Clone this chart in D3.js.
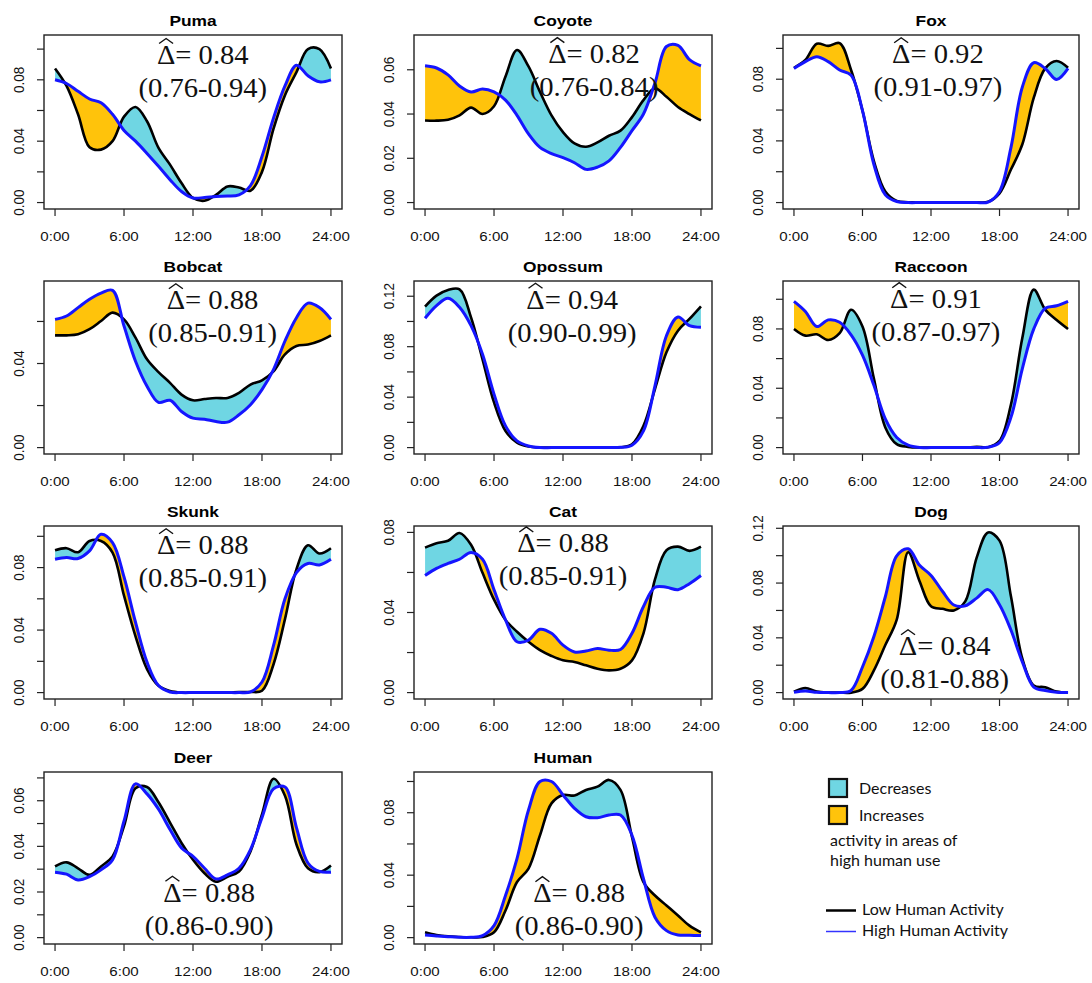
<!DOCTYPE html>
<html><head><meta charset="utf-8">
<script src="https://cdn.jsdelivr.net/npm/d3@7"></script>
<style>body{margin:0;background:#fff} svg{display:block}</style>
</head><body><svg id="chart" width="1092" height="983"></svg>
<script>
// ---------------- data ----------------
const hours = [0,1,2,3,4,5,6,7,8,9,10,11,12,13,14,15,16,17,18,19,20,21,22,23,24];
const species = ["Puma","Coyote","Fox","Bobcat","Opossum","Raccoon","Skunk","Cat","Dog","Deer","Human"];
const deltaHat = ["0.84","0.82","0.92","0.88","0.94","0.91","0.88","0.88","0.84","0.88","0.88"];
const deltaCI = ["(0.76-0.94)","(0.76-0.84)","(0.91-0.97)","(0.85-0.91)","(0.90-0.99)","(0.87-0.97)","(0.85-0.91)","(0.85-0.91)","(0.81-0.88)","(0.86-0.90)","(0.86-0.90)"];

const pumaLow   = [0.0874,0.076,0.0575,0.036,0.0345,0.040,0.056,0.0623,0.053,0.0356,0.0247,0.0127,0.003,0.0012,0.005,0.0105,0.0098,0.0077,0.020,0.048,0.070,0.085,0.100,0.100,0.0874];
const pumaHigh  = [0.080,0.0776,0.0725,0.0675,0.065,0.0575,0.047,0.040,0.032,0.0236,0.0149,0.0072,0.003,0.0033,0.004,0.0042,0.005,0.011,0.030,0.055,0.076,0.0895,0.0826,0.0787,0.080];
const coyoteLow = [0.0371,0.037,0.0374,0.0394,0.0429,0.040,0.0435,0.057,0.0689,0.0615,0.050,0.0394,0.0318,0.0267,0.0252,0.0272,0.0302,0.0325,0.0386,0.0463,0.0516,0.0478,0.0432,0.040,0.0371];
const coyoteHigh= [0.0618,0.0608,0.0577,0.0527,0.050,0.0513,0.050,0.0463,0.0394,0.031,0.0249,0.0221,0.0203,0.018,0.015,0.016,0.0188,0.0249,0.0325,0.040,0.054,0.0705,0.071,0.0646,0.0618];
const foxLow    = [0.0874,0.0925,0.103,0.1016,0.1034,0.086,0.0597,0.0269,0.0072,0.0011,0.0002,0.0001,0.0001,0.0001,0.0001,0.0001,0.0001,0.0005,0.006,0.0214,0.0378,0.068,0.087,0.0918,0.0874];
const foxHigh   = [0.087,0.0914,0.0946,0.0914,0.086,0.0826,0.0597,0.0247,0.005,0.0007,0,0,0,0,0,0,0,0.0003,0.0072,0.0356,0.075,0.0907,0.087,0.0798,0.087];
const bobcatLow = [0.0534,0.0534,0.0539,0.0563,0.0602,0.0642,0.061,0.0523,0.042,0.0359,0.0308,0.0252,0.0225,0.0231,0.0236,0.0236,0.026,0.030,0.032,0.0363,0.0443,0.0483,0.049,0.0507,0.0534];
const bobcatHigh= [0.061,0.0626,0.0666,0.0706,0.0735,0.0748,0.0578,0.0411,0.0292,0.0215,0.0225,0.0172,0.014,0.0135,0.0124,0.0121,0.0156,0.0204,0.0276,0.0371,0.0507,0.0618,0.0687,0.0666,0.061];
const opossumLow= [0.1118,0.1205,0.125,0.1255,0.1033,0.070,0.0358,0.0132,0.004,0.0008,0,0,0,0,0,0,0,0.0003,0.0026,0.0172,0.0464,0.0755,0.0927,0.102,0.112];
const opossumHigh=[0.1025,0.1126,0.1184,0.1113,0.0967,0.074,0.0424,0.0172,0.0053,0.0013,0,0,0,0,0,0,0,0.0002,0.0019,0.0132,0.049,0.0887,0.1035,0.0967,0.0954];
const raccoonLow= [0.080,0.0755,0.0764,0.0725,0.0771,0.0929,0.0816,0.0465,0.0136,0.0023,0.0005,0,0,0,0,0,0.0005,0.0003,0.0045,0.029,0.074,0.1065,0.093,0.0861,0.080];
const raccoonHigh=[0.0986,0.0918,0.0816,0.0861,0.0845,0.076,0.0623,0.042,0.0193,0.0068,0.0016,0,0,0,0,0,0,0.0003,0.0034,0.0204,0.0533,0.080,0.094,0.0956,0.0986];
const skunkLow  = [0.0911,0.0924,0.0898,0.097,0.097,0.0896,0.062,0.036,0.015,0.0043,0.001,0,0,0,0,0,0.0003,0.0004,0.0012,0.018,0.047,0.079,0.0943,0.089,0.0924];
const skunkHigh = [0.0853,0.0864,0.0858,0.0907,0.1013,0.096,0.074,0.045,0.0195,0.0045,0.0004,0,0,0,0,0,0,0.0004,0.0068,0.030,0.060,0.0768,0.0826,0.0817,0.0853];
const catLow    = [0.0724,0.0746,0.0758,0.0797,0.0738,0.0598,0.0464,0.0363,0.0304,0.0254,0.0212,0.0183,0.0161,0.0153,0.0136,0.0119,0.0111,0.0119,0.0161,0.0296,0.0565,0.0711,0.0729,0.0708,0.0729];
const catHigh   = [0.0585,0.062,0.0645,0.0666,0.070,0.0666,0.0514,0.0363,0.0254,0.0262,0.0316,0.0296,0.0237,0.0203,0.0208,0.022,0.0212,0.0215,0.0296,0.043,0.0526,0.0526,0.0514,0.0544,0.0585];
const dogLow    = [0.0007,0.0034,0.0007,0,0,0,0.0027,0.0162,0.0347,0.0533,0.1025,0.0814,0.063,0.0612,0.060,0.0666,0.0986,0.117,0.111,0.0703,0.0248,0.0052,0.0039,0.0007,0];
const dogHigh   = [0.0002,0.0012,0.0002,0,0,0.0015,0.0187,0.041,0.070,0.0999,0.105,0.093,0.0856,0.074,0.064,0.0634,0.069,0.0752,0.0642,0.0457,0.0224,0.004,0.0015,0.0002,0];
const deerLow   = [0.0312,0.033,0.0304,0.0275,0.0312,0.0356,0.0489,0.0655,0.066,0.0593,0.0504,0.0415,0.0341,0.0282,0.0245,0.0267,0.029,0.0378,0.054,0.0696,0.0622,0.0408,0.0304,0.0287,0.0316];
const deerHigh  = [0.0287,0.0278,0.0253,0.0267,0.0297,0.0341,0.0511,0.0674,0.063,0.0563,0.0474,0.0393,0.0356,0.0304,0.0257,0.0275,0.0304,0.0386,0.0526,0.0652,0.066,0.0482,0.0327,0.029,0.0287];
const humanLow  = [0.0034,0.0017,0.0008,0.0004,0.0002,0.0004,0.0034,0.0174,0.0356,0.0442,0.0656,0.086,0.0914,0.091,0.0946,0.0967,0.101,0.0946,0.0645,0.0356,0.027,0.0206,0.0142,0.0077,0.0034];
const humanHigh = [0.0017,0.0011,0.0006,0.0002,0.0002,0.0013,0.0077,0.027,0.0506,0.0817,0.10,0.10,0.0914,0.0828,0.0774,0.0768,0.0785,0.0785,0.0656,0.0377,0.0131,0.0045,0.0017,0.0015,0.0013];

const lowSeries  = [pumaLow,coyoteLow,foxLow,bobcatLow,opossumLow,raccoonLow,skunkLow,catLow,dogLow,deerLow,humanLow];
const highSeries = [pumaHigh,coyoteHigh,foxHigh,bobcatHigh,opossumHigh,raccoonHigh,skunkHigh,catHigh,dogHigh,deerHigh,humanHigh];

// axis settings per panel
const yMax       = [0.105,0.0728,0.1045,0.0762,0.127,0.108,0.1025,0.080,0.117,0.0698,0.102];
const yTickStep  = [0.02,0.02,0.02,0.02,0.02,0.02,0.02,0.02,0.02,0.01,0.02];
const yLabelEvery= [2,1,2,2,2,2,2,2,2,2,2];
const xTickHours = [0,6,12,18,24];
const xTickLabels= ["0:00","6:00","12:00","18:00","24:00"];

// fill colouring that departs from the sign of the difference in the original figure
const fillOverrides = [
  {panel:"Fox", from:0, to:5.7, type:"inc"},
  {panel:"Raccoon", from:7, to:10.5, type:"dec"},
  {panel:"Human", from:18, to:24, type:"inc"}
];

// annotation anchor (hour, value of first baseline) per panel
const annotHour  = [12.85,14.7,12.6,13.7,12.8,12.43,12.85,12.0,13.2,13.4,13.4];
const annotValue = [0.0903,0.063,0.0903,0.0658,0.110,0.094,0.0885,0.070,0.0273,0.0157,0.0227];

// ---------------- layout ----------------
const colLeft=[44,414,783], colRight=[342,712,1079];
const rowTop=[35,281,526,772], rowBottom=[209,454,699,944];
const CYAN="#6fd6e3", ORANGE="#ffc30b", BLUE="#1515ff";
const curve = d3.curveCatmullRom.alpha(0.5);
const svg = d3.select("#chart");

species.forEach((name,i)=>{
  const c=i%3, r=Math.floor(i/3);
  const L=colLeft[c], R=colRight[c], T=rowTop[r], B=rowBottom[r];
  const m=yMax[i];
  const x=d3.scaleLinear().domain([-0.96,24.96]).range([L,R]);
  const y=d3.scaleLinear().domain([-0.04*m,1.04*m]).range([B,T]);
  const pts=hours.map((h,k)=>({h, lo:lowSeries[i][k], hi:highSeries[i][k]}));
  const g=svg.append("g");
  const defs=g.append("defs");
  defs.append("clipPath").attr("id","ab"+i).append("path")
    .attr("d", d3.area().x(d=>x(d.h)).y0(T-30).y1(d=>y(d.hi)).curve(curve)(pts));
  defs.append("clipPath").attr("id","bl"+i).append("path")
    .attr("d", d3.area().x(d=>x(d.h)).y0(B+30).y1(d=>y(d.hi)).curve(curve)(pts));
  const between=d3.area().x(d=>x(d.h)).y0(d=>y(d.lo)).y1(d=>y(d.hi)).curve(curve);
  g.append("path").attr("d",between(pts)).attr("fill",CYAN).attr("clip-path",`url(#ab${i})`);
  g.append("path").attr("d",between(pts)).attr("fill",ORANGE).attr("clip-path",`url(#bl${i})`);
  fillOverrides.filter(o=>o.panel===name).forEach((o,k)=>{
    const id=`ov${i}_${k}`;
    defs.append("clipPath").attr("id",id).append("rect")
      .attr("x",x(o.from)).attr("width",x(o.to)-x(o.from)).attr("y",T-30).attr("height",B-T+60);
    g.append("path").attr("d",between(pts)).attr("fill",o.type==="inc"?ORANGE:CYAN).attr("clip-path",`url(#${id})`);
  });
  const line=(key)=>d3.line().x(d=>x(d.h)).y(d=>y(d[key])).curve(curve);
  g.append("path").attr("d",line("lo")(pts)).attr("fill","none").attr("stroke","#000").attr("stroke-width",2.6);
  g.append("path").attr("d",line("hi")(pts)).attr("fill","none").attr("stroke",BLUE).attr("stroke-width",3);

  // box
  g.append("rect").attr("x",L).attr("y",T).attr("width",R-L).attr("height",B-T)
    .attr("fill","none").attr("stroke","#222").attr("stroke-width",1.4);

  // x axis
  const xa=g.append("g");
  xTickHours.forEach((h,k)=>{
    xa.append("line").attr("x1",x(h)).attr("x2",x(h)).attr("y1",B).attr("y2",B+7).attr("stroke","#222").attr("stroke-width",1.2);
    xa.append("text").attr("transform",`translate(${x(h)},${B+32}) scale(1.12,1)`)
      .attr("text-anchor","middle").attr("font-family","Liberation Sans, Arial, sans-serif")
      .attr("font-size",13.5).attr("fill","#111").text(xTickLabels[k]);
  });
  // y axis
  const nT=Math.floor(1.04*m/yTickStep[i]+1e-9);
  const yTicks=d3.range(0,nT+1).map(k=>+(k*yTickStep[i]).toFixed(3));
  const ya=g.append("g");
  yTicks.forEach((v,k)=>{
    ya.append("line").attr("x1",L-7).attr("x2",L).attr("y1",y(v)).attr("y2",y(v)).attr("stroke","#222").attr("stroke-width",1.2);
    if(k%yLabelEvery[i]===0){
      ya.append("text").attr("transform",`translate(${L-20},${y(v)}) scale(1.12,1) rotate(-90)`)
        .attr("text-anchor","middle").attr("font-family","Liberation Sans, Arial, sans-serif")
        .attr("font-size",13.5).attr("fill","#111").text(d3.format(".2f")(v));
    }
  });
  // title
  g.append("text").attr("transform",`translate(${(L+R)/2},${T-9}) scale(1.12,1)`)
    .attr("text-anchor","middle").attr("font-family","Liberation Sans, Arial, sans-serif")
    .attr("font-weight","bold").attr("font-size",15.5).attr("fill","#000").text(name);
  // annotation
  const ax=x(annotHour[i]), ay=y(annotValue[i]);
  const ag=g.append("g").attr("transform",`translate(${ax},${ay}) scale(1.06,1)`);
  const t1=ag.append("text").attr("font-family","Liberation Serif, Times New Roman, serif")
    .attr("font-size",27).attr("fill","#111").attr("text-anchor","middle")
    .attr("x",0).attr("y",0).text("\u0394= "+deltaHat[i]);
  ag.append("text").attr("font-family","Liberation Serif, Times New Roman, serif")
    .attr("font-size",27).attr("fill","#111").attr("text-anchor","middle")
    .attr("x",0).attr("y",33).text(deltaCI[i]);
  const ext=t1.node().getExtentOfChar(0);
  const hx=ext.x+ext.width/2, hw=ext.width*0.38;
  ag.append("path").attr("d",`M${hx-hw},-20.5 L${hx},-25.5 L${hx+hw},-20.5`)
    .attr("fill","none").attr("stroke","#111").attr("stroke-width",1.3);
});

// ---------------- legend ----------------
const lg=svg.append("g").attr("font-family","Lato, Open Sans, sans-serif").attr("font-size",16).attr("fill","#111");
const legendFills=[{label:"Decreases",color:CYAN},{label:"Increases",color:ORANGE}];
legendFills.forEach((d,k)=>{
  lg.append("rect").attr("x",829).attr("y",779+k*27).attr("width",18).attr("height",18)
    .attr("fill",d.color).attr("stroke","#111").attr("stroke-width",2.2);
  lg.append("text").attr("x",859).attr("y",794+k*27).text(d.label);
});
lg.append("text").attr("x",830).attr("y",846).text("activity in areas of");
lg.append("text").attr("x",830).attr("y",866).text("high human use");
const legendLines=[{label:"Low Human Activity",color:"#000",w:2.5},{label:"High Human Activity",color:"#3333ff",w:1.5}];
legendLines.forEach((d,k)=>{
  lg.append("line").attr("x1",826).attr("x2",856).attr("y1",910.5+k*21).attr("y2",910.5+k*21)
    .attr("stroke",d.color).attr("stroke-width",d.w);
  lg.append("text").attr("x",862).attr("y",915+k*21).text(d.label);
});
</script>
</body></html>
